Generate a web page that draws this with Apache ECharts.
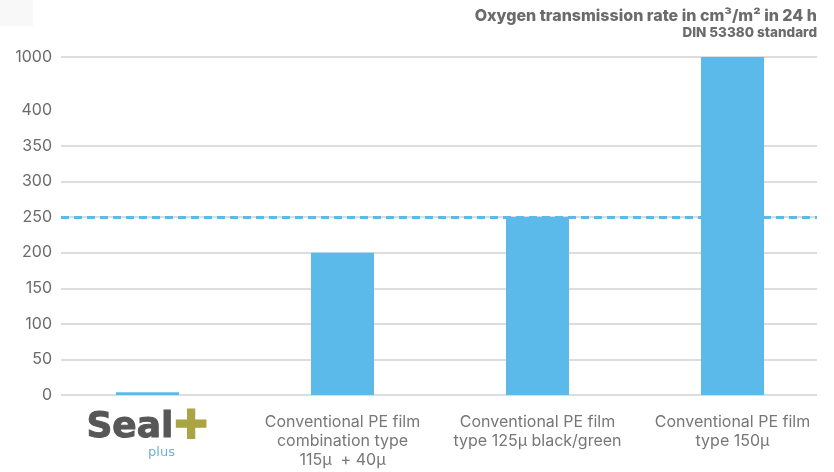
<!DOCTYPE html>
<html>
<head>
<meta charset="utf-8">
<script src="https://cdn.jsdelivr.net/npm/echarts@6/dist/echarts.min.js"></script>
<style>html,body{margin:0;padding:0;background:#fff}#c{width:834px;height:472px}</style>
</head>
<body>
<div id="c"></div>
<script>
const categories = [
  'Seal plus',
  'Conventional PE film\ncombination type\n115μ  + 40μ',
  'Conventional PE film\ntype 125μ black/green',
  'Conventional PE film\ntype 150μ'
];
const oxygenRate = [4, 200, 250, 1000];
const referenceLine = 250;
const axisBreak = { start: 400, end: 1000, gap: 75 };
const yMin = 0, yMax = 1000, yStep = 50;
const titleText = 'Oxygen transmission rate in cm³/m² in 24 h';
const subtitleText = 'DIN 53380 standard';

const yBase = {
  type: 'value',
  min: yMin,
  max: yMax,
  interval: yStep,
  breaks: [{ start: axisBreak.start, end: axisBreak.end, gap: axisBreak.gap }],
  breakArea: { show: false },
  axisLine: { show: false },
  axisTick: { show: false }
};

const chart = echarts.init(document.getElementById('c'));
chart.setOption({
  animation: false,
  textStyle: { fontFamily: 'Inter' },
  title: [
    {
      text: titleText,
      right: 17,
      top: 8,
      padding: 0,
      textStyle: { fontFamily: 'Inter', fontSize: 16, fontWeight: 800, color: '#6b6b6b' }
    },
    {
      text: subtitleText,
      right: 17,
      top: 26,
      padding: 0,
      textStyle: { fontFamily: 'Inter', fontSize: 13.5, fontWeight: 800, color: '#6b6b6b' }
    }
  ],
  graphic: [{ type: 'rect', left: 0, top: 0, shape: { width: 33, height: 26 }, style: { fill: '#f8f8f8' } }],
  grid: [
    { left: 50, right: 4, top: 57, bottom: 77 },
    { left: 61, right: 17, top: 57, bottom: 77 }
  ],
  xAxis: [
    {
      type: 'category',
      gridIndex: 0,
      data: categories,
      axisLine: { show: false },
      axisTick: { show: false },
      axisLabel: {
        margin: 18,
        interval: 0,
        fontFamily: 'Inter',
        fontSize: 16,
        lineHeight: 19,
        color: '#777777',
        formatter: function (v, i) {
          if (i === 0) return '{seal|Seal}{cross|✚}\n{pad|}{plus|plus}';
          return v;
        },
        rich: {
          seal: { fontFamily: 'DejaVu Sans', fontSize: 36, fontWeight: 'bold', color: '#575757', lineHeight: 30, textBorderColor: '#575757', textBorderWidth: 1 },
          cross: { fontFamily: 'DejaVu Sans', fontSize: 42, color: '#aaa445', lineHeight: 30 },
          plus: { fontFamily: 'DejaVu Sans', fontSize: 13, color: '#6cb0e0', lineHeight: 12 },
          pad: { width: 28 }
        }
      }
    },
    {
      type: 'category',
      gridIndex: 1,
      data: categories,
      show: false
    }
  ],
  yAxis: [
    Object.assign({}, yBase, {
      gridIndex: 0,
      axisLabel: { show: false },
      splitLine: { show: false }
    }),
    Object.assign({}, yBase, {
      gridIndex: 1,
      axisLabel: { margin: 9, fontFamily: 'Inter', fontSize: 16, color: '#6b6b6b', formatter: function (v) { return String(v); } },
      splitLine: { lineStyle: { color: '#d2d2d2', width: 1.5 } }
    })
  ],
  series: [
    {
      type: 'bar',
      xAxisIndex: 0,
      yAxisIndex: 0,
      data: oxygenRate,
      barWidth: 63,
      z: 3,
      itemStyle: { color: '#5bbaea' }
    },
    {
      type: 'bar',
      xAxisIndex: 1,
      yAxisIndex: 1,
      data: [],
      z: 4,
      markLine: {
        silent: true,
        symbol: 'none',
        label: { show: false },
        lineStyle: { color: '#5bbaea', type: [8, 5], width: 3 },
        data: [{ yAxis: referenceLine }]
      }
    }
  ]
});
</script>
</body>
</html>
